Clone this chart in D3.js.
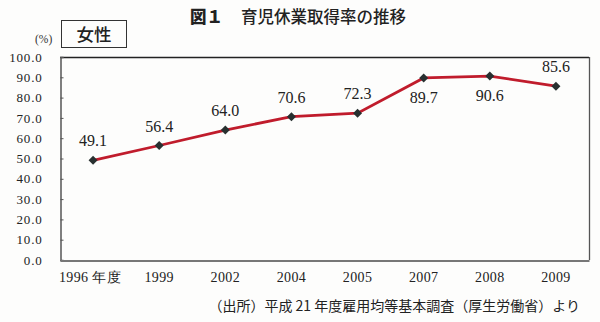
<!DOCTYPE html>
<html>
<head>
<meta charset="utf-8">
<script src="https://cdn.jsdelivr.net/npm/d3@7"></script>
<style>
  html, body { margin: 0; padding: 0; background: #fdfdfc; }
  svg { display: block; }
</style>
</head>
<body>
<svg id="chart" width="600" height="322"></svg>
<script>
// 育児休業取得率（女性）の推移
const years = ["1996", "1999", "2002", "2004", "2005", "2007", "2008", "2009"];
const yearLabels = ["1996 年度", "1999", "2002", "2004", "2005", "2007", "2008", "2009"];
const rates = [49.1, 56.4, 64.0, 70.6, 72.3, 89.7, 90.6, 85.6];
const labelBelow = [false, false, false, false, false, true, true, false];
const yTicks = [0, 10, 20, 30, 40, 50, 60, 70, 80, 90, 100];

const svg = d3.select("#chart");
const margin = { left: 60, right: 11, top: 57, bottom: 62 };
const W = 600, H = 322;
const x0 = margin.left, x1 = W - margin.right;
const y0 = H - margin.bottom, y1 = margin.top;

const serif = "'Liberation Serif', 'DejaVu Serif', serif";
const gothic = "'Noto Sans CJK JP', sans-serif";

const x = d3.scaleBand().domain(years).range([x0, x1]);
const y = d3.scaleLinear().domain([0, 100]).range([y0, y1]);

// title
const title = svg.append("text")
  .attr("x", 190).attr("y", 23)
  .attr("font-family", gothic).attr("font-size", 16.5)
  .attr("fill", "#222");
title.append("tspan").attr("font-weight", 900).text("図１");
title.append("tspan").attr("font-weight", 500).attr("dx", 18).text("育児休業取得率の推移");

// "女性" box
svg.append("rect")
  .attr("x", 61.5).attr("y", 20.5).attr("width", 65).attr("height", 27)
  .attr("fill", "none").attr("stroke", "#333").attr("stroke-width", 1);
svg.append("text")
  .attr("x", 94).attr("y", 41).attr("text-anchor", "middle")
  .attr("font-family", gothic).attr("font-size", 17.5).attr("font-weight", 500)
  .attr("fill", "#222").text("女性");

// unit
svg.append("text")
  .attr("x", 35).attr("y", 43)
  .attr("font-family", serif).attr("font-size", 11.5).attr("fill", "#333")
  .text("(%)");

// plot frame: top and right
svg.append("line").attr("x1", x0).attr("x2", x1).attr("y1", y1 + 0.5).attr("y2", y1 + 0.5)
  .attr("stroke", "#222").attr("stroke-width", 1.3);
svg.append("line").attr("x1", x1 + 0.5).attr("x2", x1 + 0.5).attr("y1", y1).attr("y2", y0)
  .attr("stroke", "#555").attr("stroke-width", 1.3);

// y axis
const yAxis = d3.axisLeft(y).tickValues(yTicks).tickSize(-3).tickPadding(18)
  .tickFormat(d3.format(".1f"));
const gy = svg.append("g").attr("transform", `translate(${x0 + 0.5},0)`).call(yAxis);
gy.select(".domain").attr("stroke", "#555").attr("stroke-width", 1.5);
gy.selectAll(".tick line").attr("stroke", "#555");
gy.selectAll(".tick text")
  .attr("font-family", serif).attr("font-size", 13).attr("fill", "#222")
  .attr("letter-spacing", 0.8);

// x axis
const xAxis = d3.axisBottom(x).tickSize(0).tickPadding(12)
  .tickFormat((d, i) => yearLabels[i]);
const gx = svg.append("g").attr("transform", `translate(0,${y0 + 0.5})`).call(xAxis);
gx.select(".domain").attr("stroke", "#777").attr("stroke-width", 2);
gx.selectAll(".tick text")
  .attr("font-family", serif).attr("font-size", 14).attr("fill", "#222")
  .attr("letter-spacing", 0.4);
gx.selectAll(".tick").filter((d, i) => i === 0).select("text").attr("dx", -3);

// line
const cx = d => x(d) + x.bandwidth() / 2;
const pts = years.map((d, i) => ({ year: d, v: rates[i], below: labelBelow[i] }));
svg.append("path")
  .datum(pts)
  .attr("fill", "none").attr("stroke", "#c01c2c").attr("stroke-width", 2.8)
  .attr("d", d3.line().x(d => cx(d.year)).y(d => y(d.v)));

// markers: square rotated 45°
svg.selectAll(".mk").data(pts).join("path")
  .attr("class", "mk")
  .attr("transform", d => `translate(${cx(d.year)},${y(d.v)}) rotate(45)`)
  .attr("d", d3.symbol().type(d3.symbolSquare).size(40))
  .attr("fill", "#283030");

// value labels
svg.selectAll(".vl").data(pts).join("text")
  .attr("class", "vl")
  .attr("x", d => cx(d.year))
  .attr("y", d => d.below ? y(d.v) + 25 : y(d.v) - 14)
  .attr("text-anchor", "middle")
  .attr("font-family", serif).attr("font-size", 16).attr("fill", "#222")
  .text(d => d.v.toFixed(1));

// source
svg.append("text")
  .attr("x", 580).attr("y", 311).attr("text-anchor", "end")
  .attr("font-family", gothic).attr("font-size", 14).attr("fill", "#222")
  .text("（出所）平成 21 年度雇用均等基本調査（厚生労働省）より");
</script>
</body>
</html>
